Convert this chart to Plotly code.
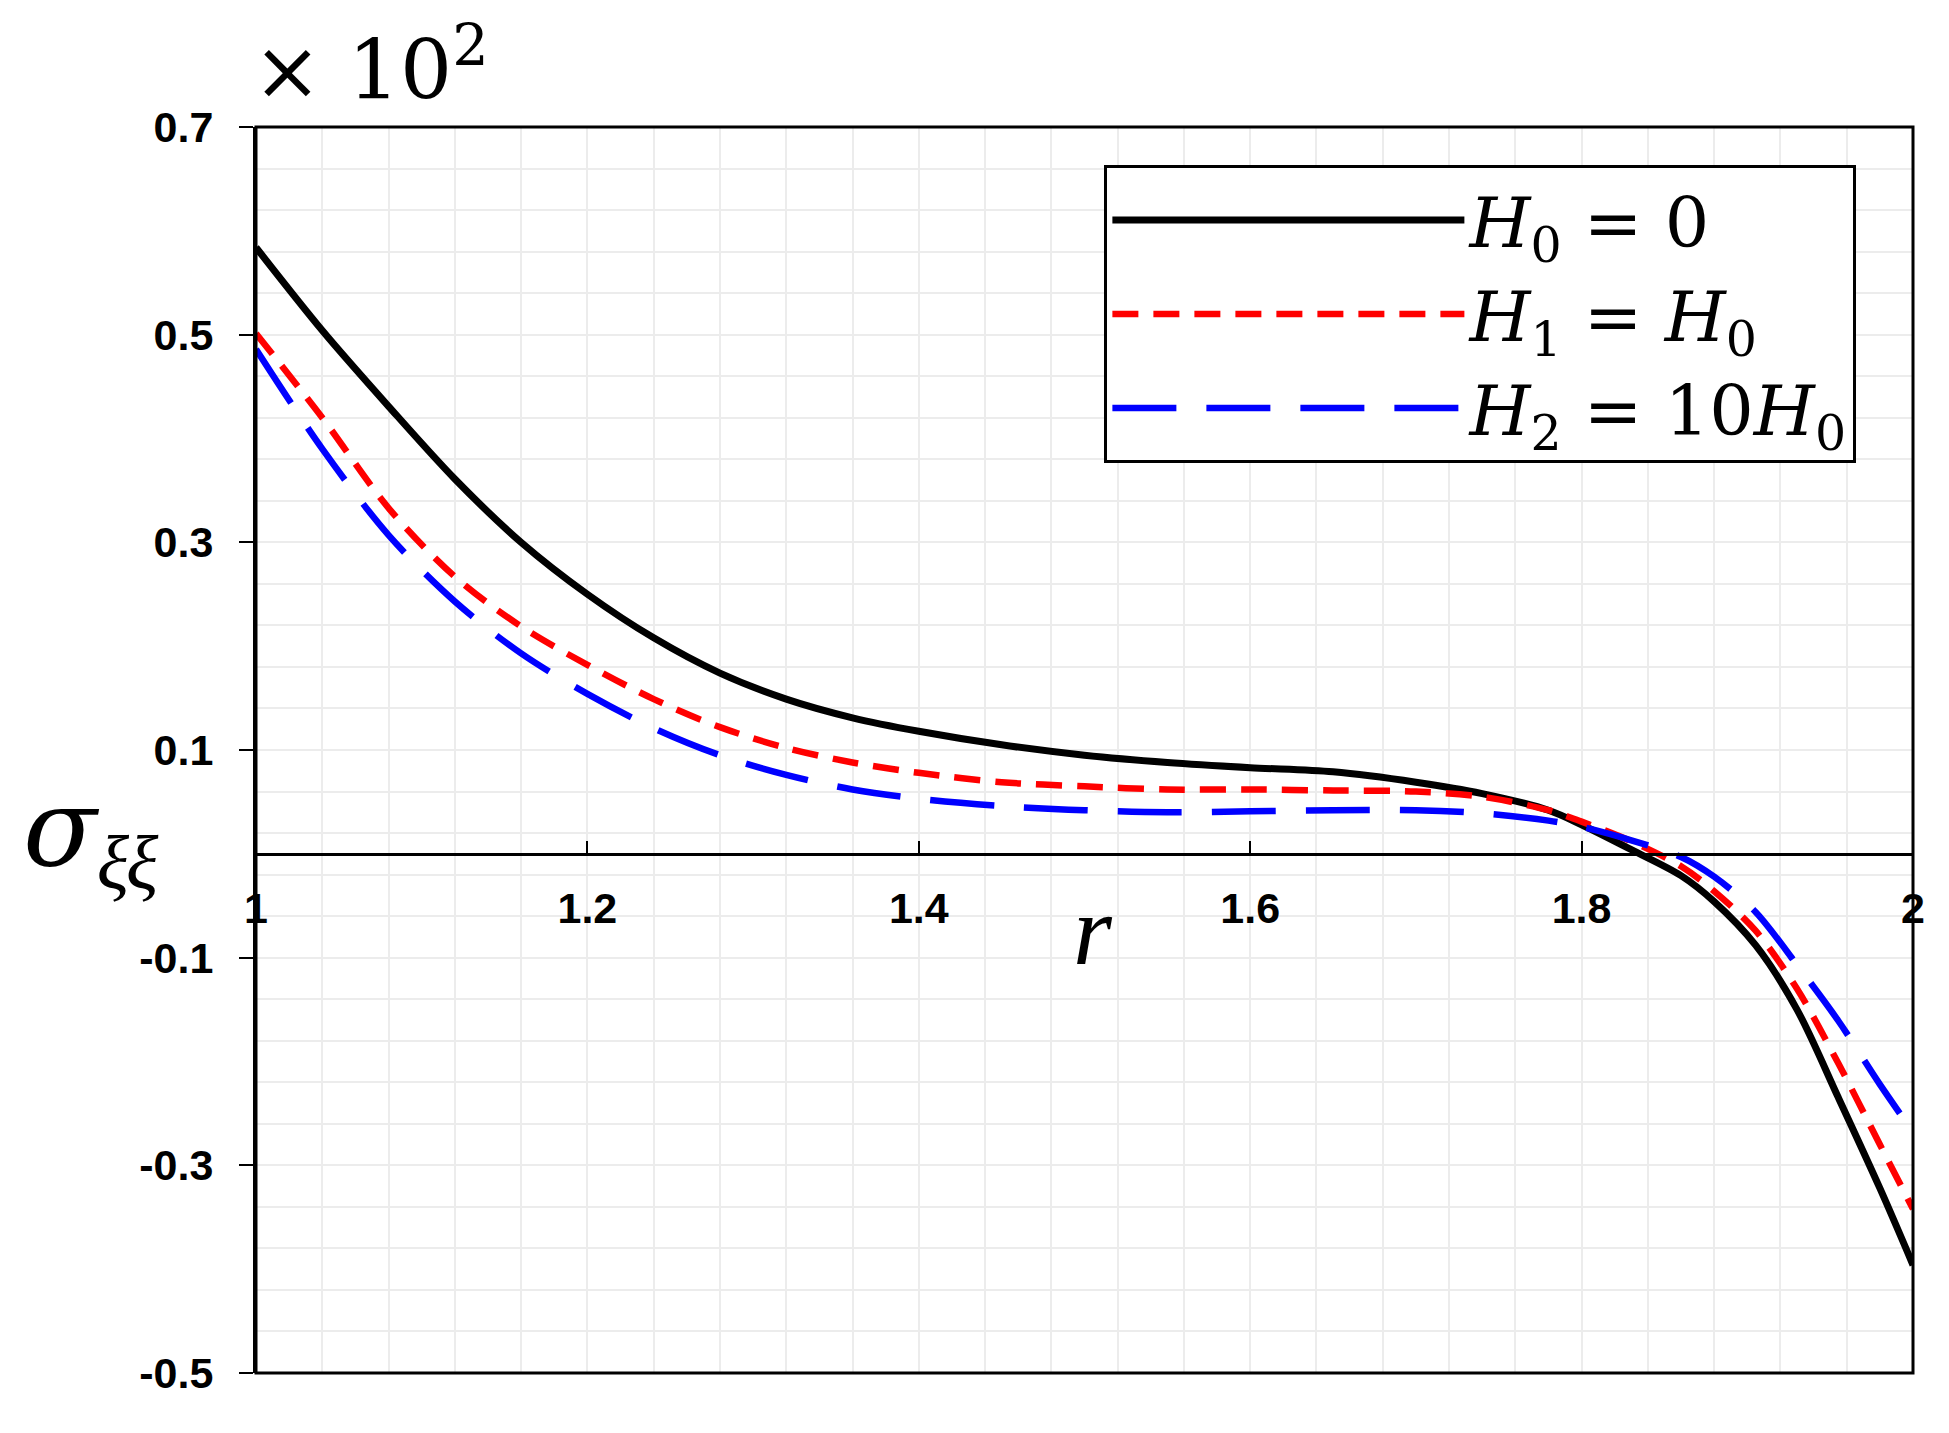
import plotly.graph_objects as go

# ---- data ----
r_vals = [1.00, 1.04, 1.08, 1.12, 1.16, 1.20, 1.24, 1.28, 1.32, 1.36, 1.40, 1.45, 1.50,
          1.55, 1.60, 1.65, 1.70, 1.74, 1.78, 1.80, 1.83, 1.86, 1.88, 1.905, 1.93, 1.955, 1.98, 2.00]
sigma_H0 = [0.584, 0.504, 0.431, 0.361, 0.300, 0.250, 0.208, 0.174, 0.149, 0.131, 0.118, 0.105, 0.095,
            0.088, 0.083, 0.079, 0.069, 0.058, 0.042, 0.028, 0.004, -0.021, -0.046, -0.088, -0.150, -0.235, -0.322, -0.396]
sigma_H1 = [0.501, 0.420, 0.333, 0.267, 0.219, 0.182, 0.149, 0.122, 0.102, 0.088, 0.078, 0.069, 0.065,
            0.062, 0.062, 0.061, 0.060, 0.055, 0.042, 0.031, 0.012, -0.012, -0.036, -0.074, -0.130, -0.202, -0.280, -0.342]
sigma_H2 = [0.486, 0.390, 0.307, 0.243, 0.193, 0.154, 0.121, 0.095, 0.076, 0.062, 0.053, 0.046, 0.042,
            0.040, 0.041, 0.042, 0.042, 0.039, 0.032, 0.026, 0.013, -0.003, -0.022, -0.056, -0.107, -0.161, -0.222, -0.268]
series_names = ["<i>H</i><sub>0</sub> = 0", "<i>H</i><sub>1</sub> = <i>H</i><sub>0</sub>",
                "<i>H</i><sub>2</sub> = 10<i>H</i><sub>0</sub>"]
x_tickvals = [1.0, 1.2, 1.4, 1.6, 1.8, 2.0]
x_ticktext = ["1", "1.2", "1.4", "1.6", "1.8", "2"]
y_tickvals = [-0.5, -0.3, -0.1, 0.1, 0.3, 0.5, 0.7]
y_ticktext = ["-0.5", "-0.3", "-0.1", "0.1", "0.3", "0.5", "0.7"]

# the page body adds an 8px margin, so the figure is 8px smaller in each direction
W, H = 1941, 1425
L, R, T, B = 248, 36, 119, 60
y_min, y_max = -0.5, 0.7

fig = go.Figure()
styles = [
    dict(color="black", width=7, dash="solid"),
    dict(color="#ff0000", width=6.5, dash="26px,15px"),
    dict(color="#0000ff", width=6.5, dash="64px,30px"),
]
for name, ys, st in zip(series_names, [sigma_H0, sigma_H1, sigma_H2], styles):
    fig.add_trace(go.Scatter(x=r_vals, y=ys, mode="lines", name=name,
                             line=dict(shape="spline", smoothing=0.9, **st)))

grid_col = "#ececec"
tick_font = dict(size=43, family="Liberation Sans, Arial", weight="bold", color="black")
fig.update_layout(
    width=W, height=H,
    margin=dict(l=L, r=R, t=T, b=B, autoexpand=False),
    paper_bgcolor="white", plot_bgcolor="white",
    font=dict(family="Liberation Sans, Arial, sans-serif", color="black"),
    showlegend=True,
    legend=dict(
        x=0.512, y=0.9695, xanchor="left", yanchor="top",
        bgcolor="white", bordercolor="black", borderwidth=3,
        font=dict(family="DejaVu Serif, serif", size=70, color="black"),
        itemwidth=352, tracegroupgap=0,
    ),
    xaxis=dict(
        range=[1, 2], anchor="free", position=(0 - y_min) / (y_max - y_min),
        tickvals=x_tickvals, ticktext=x_ticktext, automargin=False,
        ticks="inside", ticklen=12, tickwidth=2, tickcolor="black",
        showline=True, linecolor="black", linewidth=3,
        tickfont=tick_font, ticklabelstandoff=16,
        showgrid=True, gridcolor=grid_col, gridwidth=2,
        minor=dict(dtick=0.04, tick0=1, showgrid=True, gridcolor=grid_col, gridwidth=2),
        zeroline=False,
    ),
    yaxis=dict(
        range=[y_min, y_max], automargin=False,
        tickvals=y_tickvals, ticktext=y_ticktext,
        ticks="outside", ticklen=14, tickwidth=2, tickcolor="black",
        showline=True, linecolor="black", linewidth=3,
        tickfont=tick_font, ticklabelstandoff=17,
        showgrid=True, gridcolor=grid_col, gridwidth=2,
        minor=dict(dtick=0.04, tick0=-0.5, showgrid=True, gridcolor=grid_col, gridwidth=2),
        zeroline=False,
    ),
)

# plot frame (top and right edges)
fig.add_shape(type="rect", xref="x domain", yref="y domain", x0=0, x1=1, y0=0, y1=1,
              line=dict(color="black", width=3), layer="above")

fig.add_annotation(text="× 10<sup>2</sup>", xref="paper", yref="paper",
                   x=-0.003, y=1.050, xanchor="left", yanchor="middle", showarrow=False,
                   font=dict(family="DejaVu Serif, serif", size=82, color="black"))
fig.add_annotation(text="<i>σ</i><sub><i><span style='font-family:Liberation Serif'>ξξ</span></i></sub>",
                   xref="paper", yref="paper",
                   x=-0.142, y=0.432, xanchor="left", yanchor="middle", showarrow=False,
                   font=dict(family="DejaVu Serif, serif", size=108, color="black"))
fig.add_annotation(text="<i>r</i>", xref="paper", yref="paper",
                   x=0.505, y=0.355, xanchor="center", yanchor="middle", showarrow=False,
                   font=dict(family="Liberation Serif, serif", size=100, color="black"))

fig.write_html("out.html")
